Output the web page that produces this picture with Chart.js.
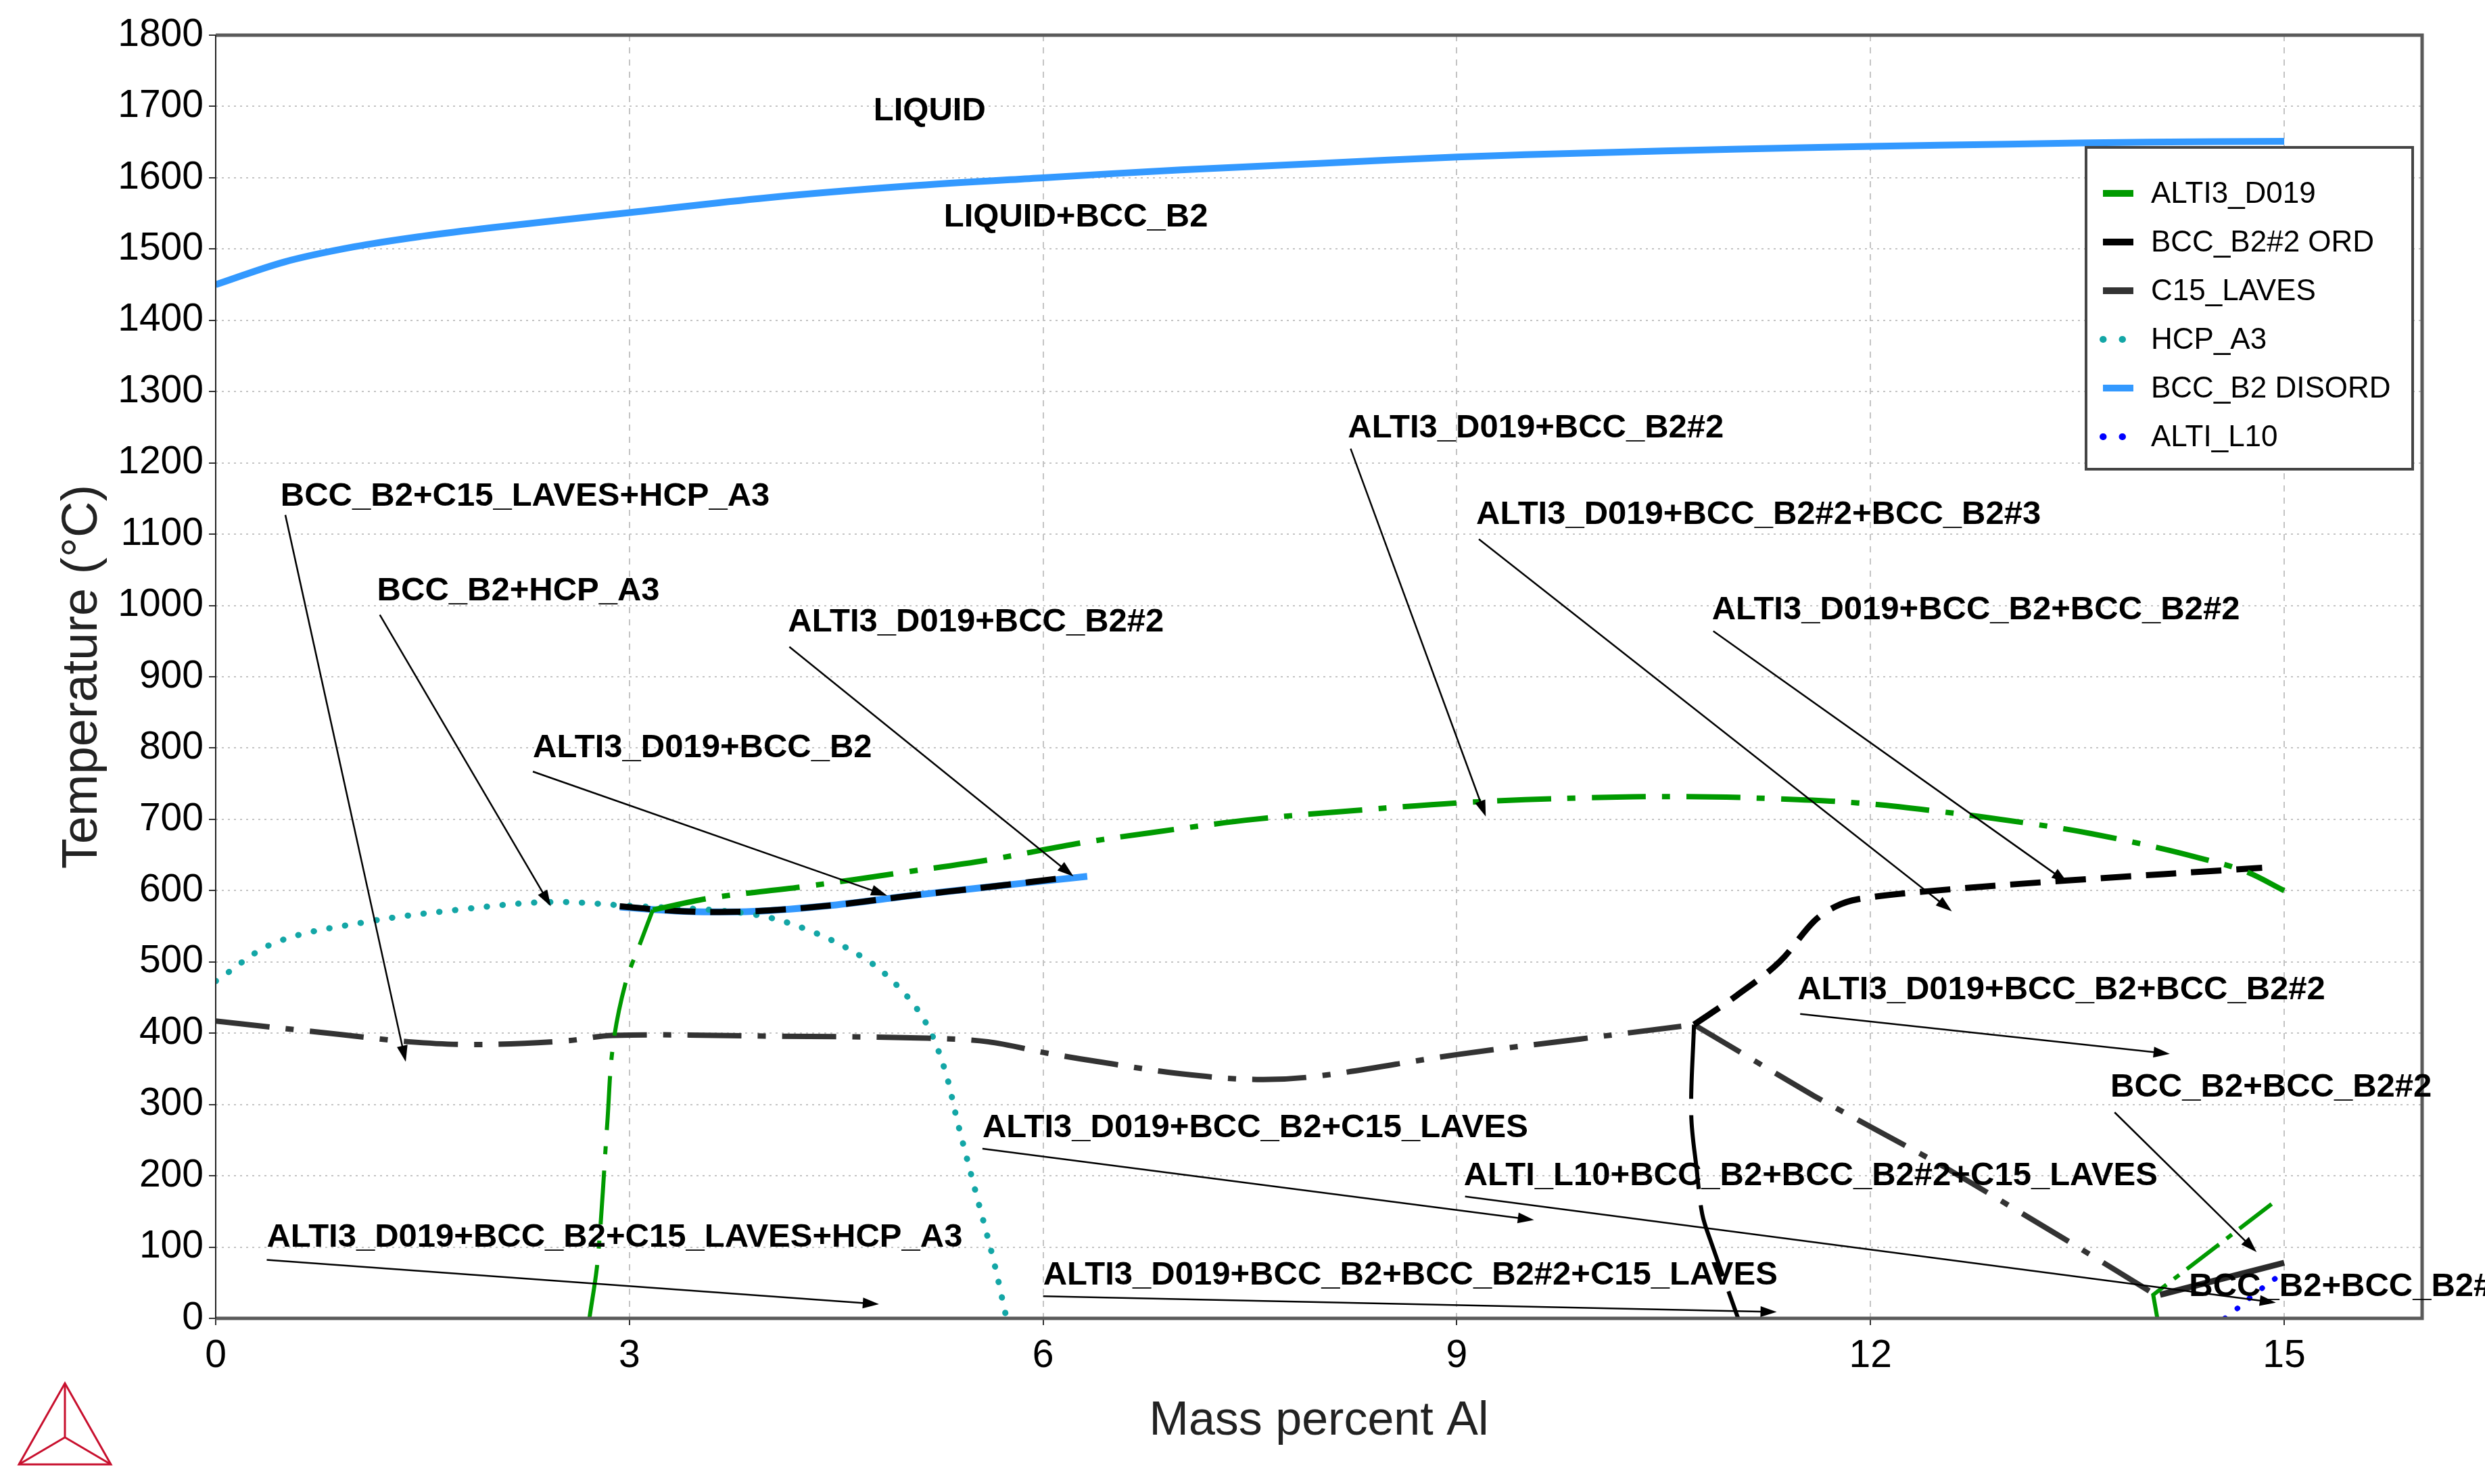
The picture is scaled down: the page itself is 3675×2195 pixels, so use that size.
<!DOCTYPE html>
<html lang="en">
<head>
<meta charset="UTF-8" />
<title>Al-Ti isopleth</title>
<script src="https://cdn.jsdelivr.net/npm/chart.js"></script>
<style>
  html, body { margin: 0; padding: 0; background: #fff; }
</style>
</head>
<body>
<canvas id="phaseChart" width="3675" height="2195"></canvas>
<script>
// ---- phase boundary data (mass percent Al, temperature in C) ----
// BCC_B2 disordered: liquidus and the short low branch
const liqX = [0, 0.5, 1, 1.5, 2, 3, 4, 5, 6, 7, 8, 9, 10, 11, 12, 13, 14, 15];
const liqY = [1450, 1482, 1503, 1518, 1530, 1551, 1572, 1588, 1600, 1611, 1620, 1629, 1635, 1640, 1644, 1647, 1650, 1651];
const bccLowX = [2.93, 3.4, 3.9, 4.5, 5.0, 5.6, 6.32];
const bccLowY = [577, 571, 571, 580, 592, 605, 620];

// ALTI3_D019
const d019SolvX = [2.71, 2.77, 2.84, 2.88, 2.97, 3.08, 3.17];
const d019SolvY = [0, 82, 275, 381, 469, 527, 573];
const d019DomeX = [3.17, 3.6, 4.28, 5.0, 5.6, 6.28, 6.77, 7.53, 8.3, 9.09, 9.9, 10.66, 11.3, 11.91, 12.5, 13.16, 13.6, 14.09, 14.4, 14.72, 15.0];
const d019DomeY = [573, 590, 606, 626, 643, 667, 681, 700, 713, 724, 730, 732, 729, 723, 711, 694, 680, 660, 645, 627, 600];
const d019LowX = [14.08, 14.05, 14.92];
const d019LowY = [0, 33, 162];

// BCC_B2#2 ordered
const ordLowX = [2.93, 3.4, 3.9, 4.5, 5.0, 5.6, 6.2];
const ordLowY = [578, 571, 571, 580, 592, 605, 619];
const ordRightX = [10.72, 11.03, 11.34, 11.59, 11.75, 11.91, 12.41, 13.41, 14.84];
const ordRightY = [412, 453, 500, 557, 578, 588, 599, 614, 632];
const ordDownX = [10.72, 10.70, 10.74, 10.78, 10.84, 11.04];
const ordDownY = [412, 286, 208, 146, 109, 0];
const ordCornerX = [14.1, 15.0];
const ordCornerY = [33, 78];

// C15_LAVES
const lavesX = [0, 0.91, 1.4, 1.88, 2.53, 2.88, 4.0, 5.16, 5.6, 6.03, 6.5, 7.0, 7.55, 8.0, 9.0, 9.9, 10.72];
const lavesY = [417, 398, 388, 384, 389, 397, 396, 393, 388, 372, 357, 343, 335, 340, 370, 392, 412];
const lavesDropX = [10.72, 11.59, 12.53, 13.47, 14.05];
const lavesDropY = [412, 312, 213, 104, 35];

// HCP_A3
const hcpX = [0, 0.43, 1.09, 1.75, 2.42, 2.97, 3.85, 4.28, 4.72, 4.98, 5.16, 5.29, 5.38, 5.51, 5.64, 5.73];
const hcpY = [473, 527, 556, 573, 584, 579, 568, 546, 503, 459, 411, 347, 275, 178, 82, 4];

// ALTI_L10
const l10X = [14.57, 14.68, 14.79, 14.95];
const l10Y = [0, 17, 35, 58];

// axis ticks
const xTickStep = 3;
const yTickStep = 100;

// ---- phase-field labels with their pointer arrows ----
const fieldLabels = [
  { text: "LIQUID", at: [4.77, 1693] },
  { text: "LIQUID+BCC_B2", at: [5.28, 1544] },
  { text: "BCC_B2+C15_LAVES+HCP_A3", at: [0.47, 1153], from: [0.505, 1127], to: [1.378, 360] },
  { text: "BCC_B2+HCP_A3", at: [1.17, 1020], from: [1.19, 987], to: [2.43, 578] },
  { text: "ALTI3_D019+BCC_B2#2", at: [4.15, 976], from: [4.16, 942], to: [6.22, 620] },
  { text: "ALTI3_D019+BCC_B2", at: [2.30, 800], from: [2.30, 767], to: [4.87, 593] },
  { text: "ALTI3_D019+BCC_B2#2", at: [8.21, 1249], from: [8.23, 1220], to: [9.21, 704] },
  { text: "ALTI3_D019+BCC_B2#2+BCC_B2#3", at: [9.14, 1127], from: [9.16, 1093], to: [12.59, 571] },
  { text: "ALTI3_D019+BCC_B2+BCC_B2#2", at: [10.85, 993], from: [10.86, 964], to: [13.43, 611] },
  { text: "ALTI3_D019+BCC_B2+BCC_B2#2", at: [11.47, 460], from: [11.49, 427], to: [14.17, 371] },
  { text: "BCC_B2+BCC_B2#2", at: [13.74, 324], from: [13.77, 289], to: [14.8, 93] },
  { text: "ALTI3_D019+BCC_B2+C15_LAVES", at: [5.56, 267], from: [5.56, 238], to: [9.56, 138] },
  { text: "ALTI_L10+BCC_B2+BCC_B2#2+C15_LAVES", at: [9.05, 200], from: [9.06, 171], to: [14.94, 22] },
  { text: "ALTI3_D019+BCC_B2+C15_LAVES+HCP_A3", at: [0.37, 113], from: [0.37, 82], to: [4.81, 20] },
  { text: "ALTI3_D019+BCC_B2+BCC_B2#2+C15_LAVES", at: [6.0, 60], from: [6.0, 31], to: [11.32, 9] },
  { text: "BCC_B2+BCC_B2#2", at: [14.31, 44] },
];

const pts = (xs, ys) => xs.map((x, i) => ({ x: x, y: ys[i] }));

// line styles per phase
const GREEN = { borderColor: "#009a00", borderWidth: 8, borderDash: [80, 24, 12, 24] };
const ORD = { borderColor: "#000000", borderWidth: 9, borderDash: [45, 22] };
const LAVES = { borderColor: "#333333", borderWidth: 8, borderDash: [80, 24, 12, 24] };
const HCP = { borderColor: "#13a6a6", borderWidth: 9, borderDash: [0.5, 23], borderCapStyle: "round" };
const DISORD = { borderColor: "#3399ff", borderWidth: 10, borderDash: [] };
const L10 = { borderColor: "#0000ff", borderWidth: 8, borderDash: [0.5, 23], borderCapStyle: "round" };

function phase(label, data, style, inLegend) {
  return Object.assign({
    label: label,
    data: data,
    showLine: true,
    pointRadius: 0,
    pointHoverRadius: 0,
    tension: 0.35,
    fill: false,
    inLegend: !!inLegend,
  }, style);
}

const datasets = [
  phase("ALTI3_D019", pts(d019DomeX, d019DomeY), GREEN, true),
  phase("ALTI3_D019", pts(d019SolvX, d019SolvY), Object.assign({}, GREEN, { borderWidth: 6 })),
  phase("ALTI3_D019", pts(d019LowX, d019LowY), Object.assign({}, GREEN, { borderWidth: 6, borderDash: [60, 14, 10, 14], tension: 0 })),
  phase("BCC_B2#2 ORD", pts(ordLowX, ordLowY), ORD, true),
  phase("BCC_B2#2 ORD", pts(ordRightX, ordRightY), ORD),
  phase("BCC_B2#2 ORD", pts(ordDownX, ordDownY), Object.assign({}, ORD, { borderWidth: 6, borderDash: [110, 24] })),
  phase("BCC_B2#2 ORD", pts(ordCornerX, ordCornerY), Object.assign({}, ORD, { borderColor: "#2a2a2a", borderDash: [] })),
  phase("C15_LAVES", pts(lavesX, lavesY), LAVES, true),
  phase("C15_LAVES", pts(lavesDropX, lavesDropY), Object.assign({}, LAVES, { tension: 0.1 })),
  phase("HCP_A3", pts(hcpX, hcpY), HCP, true),
  phase("BCC_B2 DISORD", pts(liqX, liqY), DISORD, true),
  phase("BCC_B2 DISORD", pts(bccLowX, bccLowY), DISORD),
  phase("ALTI_L10", pts(l10X, l10Y), L10, true),
];

const FONT = "Arial, 'Liberation Sans', sans-serif";

// frame, field labels, legend and logo
const decorations = {
  id: "decorations",
  afterDraw(chart) {
    const { ctx, chartArea: a, scales: { x, y } } = chart;

    // plot frame
    ctx.save();
    ctx.strokeStyle = "#5a5a5a";
    ctx.lineWidth = 5;
    ctx.beginPath();
    ctx.moveTo(a.left, a.top);
    ctx.lineTo(a.right, a.top);
    ctx.lineTo(a.right, a.bottom);
    ctx.lineTo(a.left, a.bottom);
    ctx.stroke();
    ctx.strokeStyle = "#222";
    ctx.lineWidth = 2;
    ctx.beginPath();
    ctx.moveTo(a.left, a.top);
    ctx.lineTo(a.left, a.bottom);
    ctx.stroke();

    // labels + arrows
    ctx.fillStyle = "#000";
    ctx.strokeStyle = "#000";
    ctx.lineWidth = 2.5;
    ctx.font = "bold 49px " + FONT;
    ctx.textAlign = "left";
    ctx.textBaseline = "middle";
    fieldLabels.forEach(l => {
      ctx.fillText(l.text, x.getPixelForValue(l.at[0]), y.getPixelForValue(l.at[1]));
      if (!l.from) return;
      const x1 = x.getPixelForValue(l.from[0]), y1 = y.getPixelForValue(l.from[1]);
      const x2 = x.getPixelForValue(l.to[0]), y2 = y.getPixelForValue(l.to[1]);
      const ang = Math.atan2(y2 - y1, x2 - x1);
      ctx.beginPath();
      ctx.moveTo(x1, y1);
      ctx.lineTo(x2 - 14 * Math.cos(ang), y2 - 14 * Math.sin(ang));
      ctx.stroke();
      ctx.beginPath();
      ctx.moveTo(x2, y2);
      ctx.lineTo(x2 - 24 * Math.cos(ang) + 8 * Math.sin(ang), y2 - 24 * Math.sin(ang) - 8 * Math.cos(ang));
      ctx.lineTo(x2 - 24 * Math.cos(ang) - 8 * Math.sin(ang), y2 - 24 * Math.sin(ang) + 8 * Math.cos(ang));
      ctx.closePath();
      ctx.fill();
    });

    // legend box
    const items = chart.data.datasets.filter(d => d.inLegend);
    const bx = 3085, by = 218, bw = 483, bh = 476;
    ctx.fillStyle = "#fff";
    ctx.fillRect(bx, by, bw, bh);
    ctx.strokeStyle = "#444";
    ctx.lineWidth = 4;
    ctx.strokeRect(bx, by, bw, bh);
    ctx.font = "44px " + FONT;
    items.forEach((d, i) => {
      const ry = by + 68 + i * 72;
      ctx.save();
      ctx.strokeStyle = d.borderColor;
      ctx.lineWidth = 10;
      ctx.lineCap = d.borderCapStyle === "round" ? "round" : "butt";
      ctx.setLineDash(d.borderCapStyle === "round" ? [0.5, 28] : []);
      ctx.beginPath();
      ctx.moveTo(bx + 25, ry);
      ctx.lineTo(bx + 70, ry);
      ctx.stroke();
      ctx.restore();
      ctx.fillStyle = "#000";
      ctx.fillText(d.label, bx + 96, ry + 2);
    });

    // logo triangle
    ctx.strokeStyle = "#c8102e";
    ctx.lineWidth = 3;
    const p = [[28, 2166], [164, 2166], [96, 2046]];
    const c = [96, 2126];
    ctx.beginPath();
    ctx.moveTo(p[0][0], p[0][1]);
    ctx.lineTo(p[1][0], p[1][1]);
    ctx.lineTo(p[2][0], p[2][1]);
    ctx.closePath();
    ctx.stroke();
    ctx.beginPath();
    p.forEach(v => { ctx.moveTo(v[0], v[1]); ctx.lineTo(c[0], c[1]); });
    ctx.stroke();
    ctx.restore();
  },
};

new Chart(document.getElementById("phaseChart"), {
  type: "scatter",
  data: { datasets: datasets },
  options: {
    responsive: false,
    animation: false,
    devicePixelRatio: 1,
    layout: { padding: { top: 52, right: 93, left: 0, bottom: 0 } },
    plugins: { legend: { display: false }, tooltip: { enabled: false } },
    scales: {
      x: {
        type: "linear",
        min: 0,
        max: 16,
        afterFit: s => { s.height = 245; },
        ticks: { stepSize: xTickStep, includeBounds: false, padding: 12, color: "#000", font: { family: FONT, size: 57 }, callback: v => String(v) },
        grid: { color: "#c4c4c4", lineWidth: 2, tickLength: 10, tickColor: "#333", tickWidth: 2 },
        border: { display: false, dash: [9, 9] },
        title: { display: true, text: "Mass percent Al", color: "#222", font: { family: FONT, size: 70 }, padding: { top: 0, bottom: 50 } },
      },
      y: {
        type: "linear",
        min: 0,
        max: 1800,
        afterFit: s => { s.width = 319; },
        ticks: { stepSize: yTickStep, padding: 8, color: "#000", font: { family: FONT, size: 57 }, callback: v => String(v) },
        grid: { color: "#c4c4c4", lineWidth: 2, tickLength: 10, tickColor: "#333", tickWidth: 2 },
        border: { display: false, dash: [3, 6] },
        title: { display: true, text: "Temperature (°C)", color: "#222", font: { family: FONT, size: 74 }, padding: { top: 78, bottom: 0 } },
      },
    },
  },
  plugins: [decorations],
});
</script>
</body>
</html>
